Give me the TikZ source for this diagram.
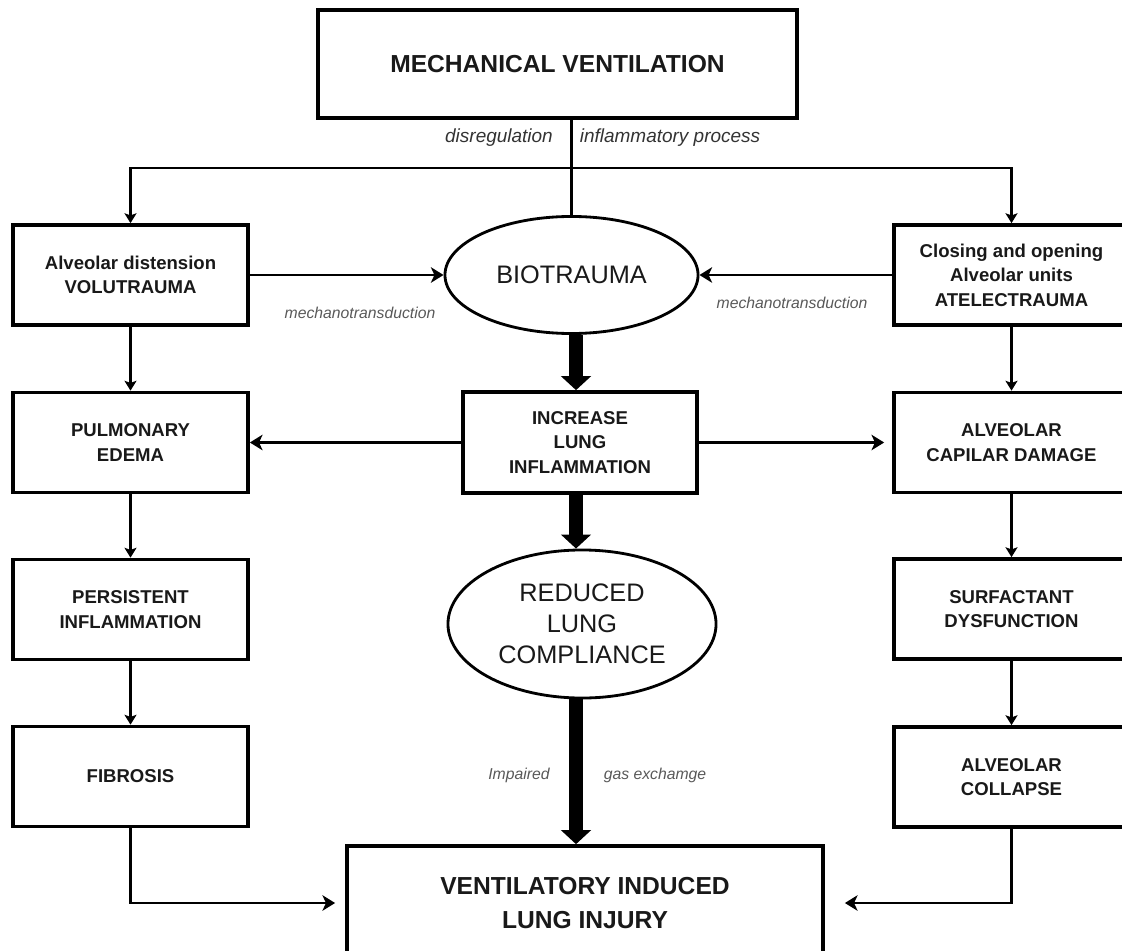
\documentclass[tikz,border=0pt]{standalone}
\usepackage{fontspec}
\setmainfont{Liberation Sans}
\usetikzlibrary{arrows.meta,shapes.geometric,calc}
\begin{document}
\begin{tikzpicture}[x=0.025cm,y=-0.025cm,
 box/.style={draw, line width=2.6pt, rectangle, inner sep=0pt, align=center,
   font=\fontsize{13.2}{17.4}\selectfont\bfseries, text=black!90},
 sidebox/.style={box, minimum width=5.875cm, minimum height=2.5cm},
 oval/.style={draw, ellipse, line width=2pt, inner sep=0pt, align=center,
   font=\fontsize{18}{22}\selectfont, text=black!90},
 conn/.style={line width=2.1pt},
 harr/.style={conn, -{Stealth[length=9pt,width=11pt,inset=2.5pt]}},
 varr/.style={conn, -{Stealth[length=7pt,width=8.5pt,inset=1.5pt]}},
 fat/.style={line width=10pt, -{Triangle[length=10pt,width=21pt]}},
 lbl/.style={font=\fontsize{11.2}{13}\selectfont\itshape, text=black!65, inner sep=0pt},
 toplbl/.style={font=\fontsize{13.5}{16}\selectfont\itshape, text=black!80, inner sep=0pt},
]
\useasboundingbox (0,0) rectangle (1122,951);
\clip (0,0) rectangle (1122,951);

% nodes
\node[box, minimum width=11.975cm, minimum height=2.7cm,
  font=\fontsize{17.5}{21}\selectfont\bfseries] (mv) at (557.5,64) {MECHANICAL VENTILATION};
\node[sidebox] (volu) at (130.5,275) {Alveolar distension\\VOLUTRAUMA};
\node[sidebox] (atel) at (1011.5,275) {Closing and opening\\Alveolar units\\ATELECTRAUMA};
\node[sidebox] (pulm) at (130.5,442.5) {PULMONARY\\EDEMA};
\node[sidebox] (cap) at (1011.5,442.5) {ALVEOLAR\\CAPILAR DAMAGE};
\node[sidebox] (pers) at (130.5,609.5) {PERSISTENT\\INFLAMMATION};
\node[sidebox] (surf) at (1011.5,609) {SURFACTANT\\DYSFUNCTION};
\node[sidebox] (fib) at (130.5,776.5) {FIBROSIS};
\node[sidebox] (coll) at (1011.5,777) {ALVEOLAR\\COLLAPSE};
\node[box, minimum width=5.85cm, minimum height=2.525cm] (inc) at (580,442.5) {INCREASE\\LUNG\\INFLAMMATION};
\node[box, minimum width=11.9cm, minimum height=2.85cm,
  font=\fontsize{17.5}{23.5}\selectfont\bfseries] (vili) at (585,903) {VENTILATORY INDUCED\\LUNG INJURY};
\node[oval, minimum width=6.325cm, minimum height=2.925cm] (bio) at (571.5,275) {BIOTRAUMA};
\node[oval, minimum width=6.7cm, minimum height=3.7cm] (red) at (582,624) {REDUCED\\LUNG\\COMPLIANCE};

% labels
\node[toplbl] (l1) at (499,138) {disregulation};
\node[toplbl] (l2) at (670,138) {inflammatory process};
\node[lbl] (l3) at (360,313) {mechanotransduction};
\node[lbl] (l4) at (792,303) {mechanotransduction};
\node[lbl] (l5) at (519,775) {Impaired};
\node[lbl] (l6) at (655,775) {gas exchamge};

% connectors
\coordinate (hub) at (571.5,168);
\coordinate (col) at (576,0);
\draw[conn] (mv.south -| bio.north) -- (bio.north);
\draw[varr] (hub) -| (volu.north);
\draw[varr] (hub) -| (atel.north);
\draw[harr] (volu.east) -- (bio.west);
\draw[harr] (atel.west) -- (bio.east);
\draw[fat] (bio.south -| col) -- (inc.north -| col);
\draw[fat] (inc.south -| col) -- (red.north -| col);
\draw[fat] (red.south -| col) -- (vili.north -| col);
\draw[harr] (inc.west) -- (pulm.east);
\draw[harr, shorten >=0.2cm] (inc.east) -- (cap.west);
\draw[varr] (volu) -- (pulm);
\draw[varr] (pulm) -- (pers);
\draw[varr] (pers) -- (fib);
\draw[varr] (atel) -- (cap);
\draw[varr] (cap) -- (surf);
\draw[varr] (surf) -- (coll);
\draw[harr, shorten >=0.25cm] (fib.south) |- (vili.west);
\draw[harr, shorten >=0.5cm] (coll.south) |- (vili.east);
\end{tikzpicture}
\end{document}
